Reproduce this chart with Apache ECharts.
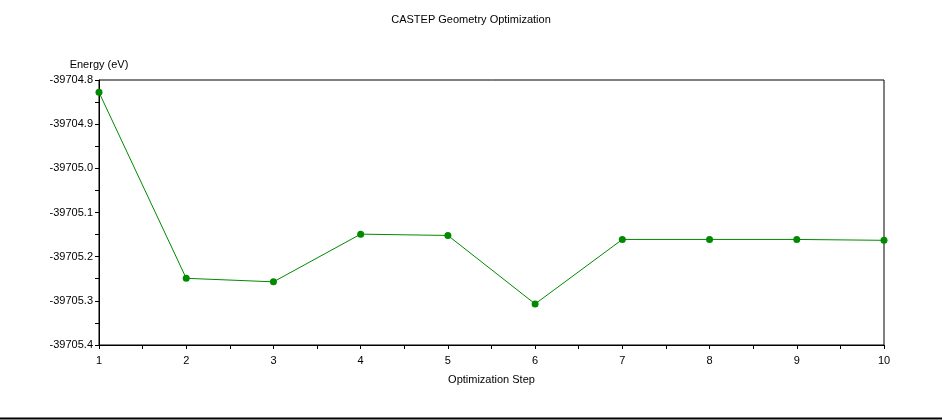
<!DOCTYPE html>
<html><head><meta charset="utf-8">
<script src="https://cdn.jsdelivr.net/npm/echarts@6/dist/echarts.min.js"></script>
<style>html,body{margin:0;padding:0;background:#fff}#c{width:942px;height:420px}</style>
</head><body><div id="c"></div>
<script>
const steps = [1, 2, 3, 4, 5, 6, 7, 8, 9, 10];
const energy = [-39704.828, -39705.249, -39705.257, -39705.149, -39705.152, -39705.307, -39705.161, -39705.161, -39705.161, -39705.163];
const yMin = -39705.4, yMax = -39704.8;

const font = 'Liberation Sans';
const chart = echarts.init(document.getElementById('c'));
chart.setOption({
  animation: false,
  backgroundColor: '#fff',
  title: { text: 'CASTEP Geometry Optimization', left: 'center', top: 9,
    textStyle: { fontFamily: font, fontSize: 11, fontWeight: 'normal', color: '#000' } },
  grid: { left: 99, right: 58, top: 80, bottom: 75, show: true, borderColor: '#000', borderWidth: 1, backgroundColor: 'transparent' },
  xAxis: {
    type: 'value', min: 1, max: 10, interval: 1,
    name: 'Optimization Step', nameLocation: 'middle', nameGap: 29,
    nameTextStyle: { fontFamily: font, fontSize: 11, color: '#000' },
    axisLine: { lineStyle: { color: '#000', width: 1 } },
    axisTick: { show: true, length: 4, lineStyle: { color: '#000' } },
    minorTick: { show: true, splitNumber: 2, length: 4, lineStyle: { color: '#000' } },
    axisLabel: { fontFamily: font, fontSize: 11, color: '#000', margin: 10 },
    splitLine: { show: false }
  },
  yAxis: {
    type: 'value', min: yMin, max: yMax, interval: 0.1,
    name: 'Energy (eV)', nameLocation: 'end', nameGap: 10,
    nameTextStyle: { fontFamily: font, fontSize: 11, color: '#000', align: 'center' },
    axisLine: { show: true, lineStyle: { color: '#000', width: 1 } },
    axisTick: { show: true, length: 4, lineStyle: { color: '#000' } },
    minorTick: { show: true, splitNumber: 2, length: 4, lineStyle: { color: '#000' } },
    axisLabel: { fontFamily: font, fontSize: 11, color: '#000', margin: 6,
      formatter: v => v.toFixed(1) },
    splitLine: { show: false }
  },
  series: [{
    type: 'line',
    data: steps.map((s, i) => [s, energy[i]]),
    symbol: 'circle', symbolSize: 7,
    lineStyle: { color: '#008a00', width: 1 },
    itemStyle: { color: '#008a00' }
  }],
  graphic: [{
    type: 'line', shape: { x1: 0, y1: 418.5, x2: 942, y2: 418.5 },
    style: { stroke: '#000', lineWidth: 2 }, silent: true
  }]
});
</script></body></html>
